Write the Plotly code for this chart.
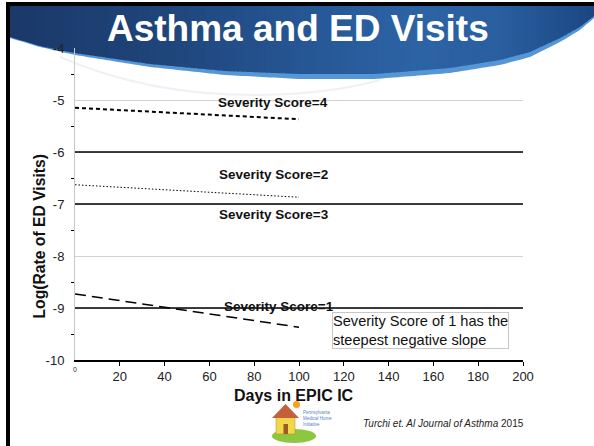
import numpy as np
import plotly.graph_objects as go

# ---------------- data ----------------
days = [0, 100]
score4 = [-5.15, -5.37]
score2 = [-6.63, -6.87]
score1 = [-8.73, -9.37]
ref_days = [0, 200]
ref_levels = [-6, -7, -9]

x_ticks = [20, 40, 60, 80, 100, 120, 140, 160, 180, 200]
x_ticklabels = ["20", "40", "60", "80", "100", "120", "140", "160", "180", "200"]
y_ticks = [-4, -5, -6, -7, -8, -9, -10]
y_ticklabels = ["-4", "-5", "-6", "-7", "-8", "-9", "-10"]
y_minor = [-4.5, -5.5, -6.5, -7.5, -8.5, -9.5]

label_texts = ["Severity Score=4", "Severity Score=2", "Severity Score=3", "Severity Score=1"]
label_x = [88.5, 88.5, 89, 91]
label_y = [-5.04, -6.44, -7.2, -8.98]

p_text = "p= 0.017"
p_x, p_y = 201.2, -8.55
note_text = "Severity Score of 1 has the<br>steepest negative slope"

# ---------------- geometry helpers (decoration only) ----------------
W, H = 594, 446
ML, MR, MT, MB = 75, 71, 48, 86
PW, PH = W - ML - MR, H - MT - MB


def px(x):
    return (x - ML) / PW


def py(y):
    return (H - MB - y) / PH


FONT = "Liberation Sans, Arial, sans-serif"

fig = go.Figure()

for lv in ref_levels:
    fig.add_trace(go.Scatter(x=ref_days, y=[lv, lv], mode="lines",
                             line=dict(color="black", width=1.3), hoverinfo="skip"))

fig.add_trace(go.Scatter(x=days, y=score4, mode="lines",
                         line=dict(color="black", width=2, dash="4px,3px")))
fig.add_trace(go.Scatter(x=days, y=score2, mode="lines",
                         line=dict(color="black", width=1, dash="1.5px,2px")))
fig.add_trace(go.Scatter(x=days, y=score1, mode="lines",
                         line=dict(color="black", width=1.5, dash="11px,6px")))

shapes = []

# banner with horizontal gradient (approximated by strips)
bx = [10, 40, 75, 150, 225, 300, 375, 450, 500, 530, 560, 580, 594]
by = [38, 47, 55, 67, 75, 79, 79, 73, 65, 57, 42, 30, 18]
bt = [1, 1, 2, 3, 4, 5, 5, 5, 5, 5, 4, 3, 2]
xs = np.linspace(10, 594, 147)
ys = np.interp(xs, bx, by)
band_path = f"M{px(10):.4f},{py(6):.4f} L{px(594):.4f},{py(6):.4f} " + \
    " ".join(f"L{px(x):.4f},{py(y):.4f}" for x, y in zip(xs[::-1], ys[::-1])) + " Z"
shapes.append(dict(type="path", path=band_path, xref="paper", yref="paper",
                   fillcolor="#5596d6", line=dict(width=0), layer="below"))

cx = [10, 150, 300, 420, 500, 560, 594]
cols = np.array([[0x1b, 0x39, 0x69], [0x1f, 0x44, 0x79], [0x26, 0x56, 0x94],
                 [0x2d, 0x64, 0xa6], [0x2a, 0x5f, 0xa0], [0x22, 0x50, 0x8e],
                 [0x1d, 0x46, 0x83]])
edges = np.arange(10, 595, 4)
for a in edges[:-1]:
    b = min(a + 5, 594)
    seg = np.linspace(a, b, 3)
    yb = np.interp(seg, bx, by) - np.interp(seg, bx, bt)
    mid = (a + b) / 2
    c = [int(np.interp(mid, cx, cols[:, k])) for k in range(3)]
    path = f"M{px(a):.4f},{py(6):.4f} L{px(b):.4f},{py(6):.4f} " + \
        " ".join(f"L{px(x):.4f},{py(y):.4f}" for x, y in zip(seg[::-1], yb[::-1])) + " Z"
    shapes.append(dict(type="path", path=path, xref="paper", yref="paper",
                       fillcolor=f"rgb({c[0]},{c[1]},{c[2]})", line=dict(width=0),
                       layer="below"))

# faint swoosh
sw = (f"M{px(60):.4f},{py(57):.4f} Q{px(150):.4f},{py(96):.4f} {px(260):.4f},{py(95):.4f} "
      f"Q{px(330):.4f},{py(94):.4f} {px(380):.4f},{py(80):.4f}")
shapes.append(dict(type="path", path=sw, xref="paper", yref="paper",
                   line=dict(color="#eef1f5", width=2), layer="below"))

# slide frame
shapes.append(dict(type="rect", xref="paper", yref="paper", x0=px(6), x1=px(10),
                   y0=py(446), y1=py(2), fillcolor="black", line=dict(width=0)))
shapes.append(dict(type="rect", xref="paper", yref="paper", x0=px(6), x1=px(594),
                   y0=py(6), y1=py(2), fillcolor="black", line=dict(width=0)))

# logo
shapes.append(dict(type="circle", xref="paper", yref="paper", x0=px(272), x1=px(316),
                   y0=py(443), y1=py(429), fillcolor="#8dc63f", line=dict(width=0)))
shapes.append(dict(type="rect", xref="paper", yref="paper", x0=px(276), x1=px(295),
                   y0=py(434), y1=py(417), fillcolor="#f2d64b",
                   line=dict(color="#b8862b", width=0.5)))
shapes.append(dict(type="path", xref="paper", yref="paper",
                   path=f"M{px(272):.4f},{py(418):.4f} L{px(285.5):.4f},{py(404):.4f} "
                        f"L{px(299):.4f},{py(418):.4f} Z",
                   fillcolor="#c2613a", line=dict(width=0)))
shapes.append(dict(type="rect", xref="paper", yref="paper", x0=px(283.5), x1=px(288),
                   y0=py(434), y1=py(424), fillcolor="#9a5a2a", line=dict(width=0)))
shapes.append(dict(type="circle", xref="paper", yref="paper", x0=px(293), x1=px(300),
                   y0=py(408), y1=py(401), fillcolor="#f7a21b", line=dict(width=0)))

annotations = []
for t, x, y in zip(label_texts, label_x, label_y):
    annotations.append(dict(x=x, y=y, xref="x", yref="y", text=f"<b>{t}</b>",
                            xanchor="center", yanchor="middle",
                            showarrow=False, font=dict(family=FONT, size=13.5, color="#111")))

annotations.append(dict(x=p_x, y=p_y, xref="x", yref="y", text=p_text,
                        xanchor="right", yanchor="middle",
                        showarrow=False, font=dict(family=FONT, size=16, color="#ff1a1a")))


def ann(x, y, text, size, color="#111", xanchor="center", **kw):
    d = dict(x=px(x), y=py(y), xref="paper", yref="paper", text=text, showarrow=False,
             xanchor=xanchor, yanchor="middle", font=dict(family=FONT, size=size, color=color))
    d.update(kw)
    return d


annotations += [
    ann(332, 330, note_text, 14.6, xanchor="left", align="left", bordercolor="#c8c8c8",
        borderwidth=1, borderpad=0, bgcolor="white"),
    ann(298, 28, "<b>Asthma and ED Visits</b>", 37, "white"),
    ann(38.5, 237, "<b>Log(Rate of ED Visits)</b>", 15.7, textangle=-90),
    ann(294, 395, "<b>Days in EPIC IC</b>", 16),
    ann(75, 370, "0", 7, "#333"),
    ann(526, 423, "<i>Turchi et. Al Journal of Asthma</i> 2015", 10, "#222", xanchor="right"),
    ann(301, 418, "Pennsylvania<br>Medical Home<br>Initiative", 4.5, "#5b7fc5",
        xanchor="left", align="left"),
]

fig.update_layout(
    width=W, height=H, autosize=False,
    margin=dict(l=ML, r=MR, t=MT, b=MB, pad=0),
    paper_bgcolor="white", plot_bgcolor="rgba(0,0,0,0)",
    showlegend=False,
    font=dict(family=FONT, size=13, color="#222"),
    shapes=shapes, annotations=annotations,
    xaxis=dict(range=[0, 200], tickmode="array", tickvals=x_ticks, ticktext=x_ticklabels,
               ticks="outside", ticklen=4, tickcolor="black", tickwidth=1,
               showline=True, linecolor="black", linewidth=1.5, showgrid=False,
               zeroline=False, tickfont=dict(size=13, color="#222")),
    yaxis=dict(range=[-10, -4], tickmode="array", tickvals=y_ticks, ticktext=y_ticklabels,
               ticks="", showgrid=True, gridcolor="rgba(0,0,0,0.18)", gridwidth=1,
               showline=True, linecolor="#c8c8c8", linewidth=1, zeroline=False,
               ticklabelstandoff=7, tickfont=dict(size=13, color="#222"),
               minor=dict(tickmode="array", tickvals=y_minor, ticks="outside", ticklen=3,
                          tickcolor="black", tickwidth=1, showgrid=False)),
)

fig.write_html("out.html", config={"displayModeBar": False},
               post_script="document.body.style.margin='0';")
